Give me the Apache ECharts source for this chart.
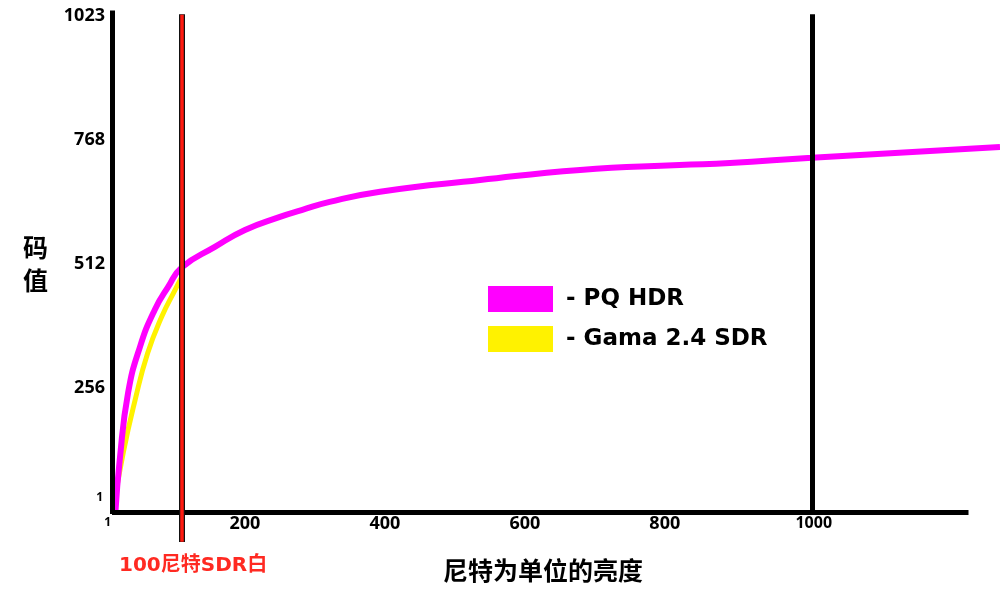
<!DOCTYPE html>
<html>
<head>
<meta charset="utf-8">
<script src="https://cdn.jsdelivr.net/npm/echarts@6/dist/echarts.min.js"></script>
<style>
  html, body { margin: 0; padding: 0; background: #fff; }
  #chart { width: 1000px; height: 589px; }
</style>
</head>
<body>
<div id="chart"></div>
<script>
// curve readings (nits -> 10-bit code value)
const pqNits = [5, 11, 23, 40, 61, 80, 100, 147, 190, 240, 271, 311, 383, 526, 669, 811, 883, 1000, 1269];
const pqCode = [2, 107, 246, 341, 417, 464, 505, 547, 582, 609, 623, 640, 661, 685, 706, 716, 720, 731, 753];
const gammaNits = [1, 16, 33, 51, 71, 90, 101];
const gammaCode = [0, 122, 231, 328, 403, 458, 489];

const xTicks = [1, 200, 400, 600, 800, 1000];
const yTicks = [1, 256, 512, 768, 1023];

const sdrWhite = 100;
const peakLine = 1000;

const chart = echarts.init(document.getElementById('chart'));

const zip = (xs, ys) => xs.map((x, i) => [x, ys[i]]);
const tickFont = '"Open Sans", "DejaVu Sans", sans-serif';
const cjkFont = '"DejaVu Sans", "Noto Sans CJK SC", sans-serif';
const tickText = { fontFamily: tickFont, fontSize: 18, fontWeight: 'bold', color: '#000' };
const smallText = { fontFamily: tickFont, fontSize: 12, fontWeight: 'bold', color: '#000' };

const option = {
  backgroundColor: '#fff',
  animation: false,
  grid: { left: 112, right: 0, top: 8, bottom: 43 },
  title: [
    {
      text: '码\n值', left: 18, top: 229,
      textStyle: { fontFamily: cjkFont, fontSize: 25, fontWeight: 'bold', lineHeight: 33, color: '#000' }
    },
    {
      text: '100尼特SDR白', left: 114, top: 549,
      textStyle: { fontFamily: cjkFont, fontSize: 20, fontWeight: 'bold', lineHeight: 24, color: '#ff2a22' }
    },
    {
      text: '尼特为单位的亮度', left: 438, top: 550,
      textStyle: { fontFamily: '"Noto Sans CJK SC", sans-serif', fontSize: 25, fontWeight: 'bold', lineHeight: 30, color: '#000' }
    }
  ],
  legend: {
    orient: 'vertical',
    left: 488, top: 286, padding: 0,
    itemWidth: 65, itemHeight: 26, itemGap: 14,
    icon: 'rect',
    data: ['PQ HDR', 'Gama 2.4 SDR'],
    formatter: ' - {name}',
    textStyle: { fontFamily: '"DejaVu Sans", sans-serif', fontSize: 23, fontWeight: 'bold', color: '#000' }
  },
  xAxis: {
    type: 'value', min: 0, max: 1269,
    axisLine: { show: false },
    axisTick: { show: false },
    splitLine: { show: false },
    axisLabel: {
      customValues: xTicks,
      // grid bottom sits below y = 0, pull the labels up to the baseline
      margin: -31,
      color: '#000',
      fontFamily: tickFont, fontSize: 18, fontWeight: 'bold',
      formatter: v => {
        if (v === 1) return '{s|1}';
        if (v === 1000) return '{e|1000}';
        return '{m|' + v + '}';
      },
      rich: {
        s: Object.assign({ padding: [2, 10, 0, 0] }, smallText),
        m: Object.assign({ padding: [0, 14, 0, 0] }, tickText),
        e: Object.assign({ padding: [0, 0, 0, 4] }, tickText, { fontSize: 16 })
      }
    }
  },
  yAxis: {
    type: 'value', min: -70, max: 1040,
    axisLine: { show: false },
    axisTick: { show: false },
    splitLine: { show: false },
    axisLabel: {
      customValues: yTicks,
      margin: 7,
      color: '#000',
      fontFamily: tickFont, fontSize: 18, fontWeight: 'bold',
      formatter: v => v === 1 ? '{s|1}' : String(v),
      rich: { s: Object.assign({ padding: [0, 2, 28, 0] }, smallText) }
    }
  },
  series: [
    {
      name: 'frame', type: 'line', data: [], z: 1, silent: true,
      markLine: {
        silent: true, symbol: 'none', label: { show: false },
        emphasis: { disabled: true },
        data: [
          [{ coord: [0, -4], lineStyle: { color: '#000', width: 5, type: 'solid' } }, { coord: [0, 1035] }],
          [{ coord: [0, 0], lineStyle: { color: '#000', width: 5, type: 'solid' } }, { coord: [1224, 0] }],
          [{ coord: [peakLine, 0], lineStyle: { color: '#000', width: 5, type: 'solid' } }, { coord: [peakLine, 1027] }],
          [{ coord: [sdrWhite, -62], lineStyle: { color: '#111', width: 6, type: 'solid' } }, { coord: [sdrWhite, 1027] }]
        ]
      }
    },
    {
      name: 'sdrCore', type: 'line', data: [], z: 2, silent: true,
      markLine: {
        silent: true, symbol: 'none', label: { show: false },
        emphasis: { disabled: true },
        data: [
          [{ coord: [sdrWhite, -61], lineStyle: { color: '#ff1a10', width: 3.5, type: 'solid' } }, { coord: [sdrWhite, 1026] }]
        ]
      }
    },
    {
      name: 'Gama 2.4 SDR', type: 'line', z: 3,
      data: zip(gammaNits, gammaCode),
      color: '#fff200',
      itemStyle: { color: '#fff200' },
      showSymbol: false, symbol: 'none',
      smooth: true,
      lineStyle: { color: '#fff200', width: 5 }
    },
    {
      name: 'PQ HDR', type: 'line', z: 4,
      data: zip(pqNits, pqCode),
      color: '#ff00ff',
      itemStyle: { color: '#ff00ff' },
      showSymbol: false, symbol: 'none',
      smooth: true,
      lineStyle: { color: '#ff00ff', width: 6 }
    }
  ]
};

chart.setOption(option);
</script>
</body>
</html>
